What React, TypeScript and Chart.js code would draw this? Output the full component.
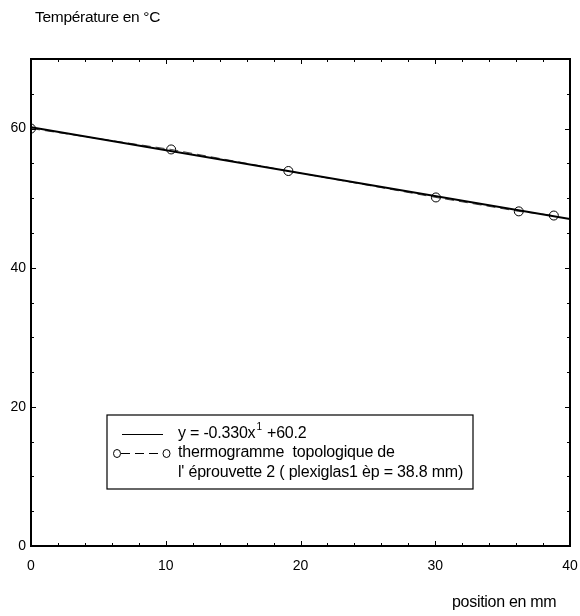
import React, { useEffect, useRef } from "react";
import { Chart, registerables } from "chart.js";

Chart.register(...registerables);

// Measured data (position in mm, temperature in °C)
const positions = [0, 10.4, 19.1, 30.05, 36.2, 38.8];
const temperatures = [60.0, 57.0, 53.9, 50.1, 48.1, 47.5];

// Fitted line end points: y = -0.330x + 60.2
const fitX = [0, 40];
const fitY = [60.2, 47.0];

const xTickValues = [0, 10, 20, 30, 40];
const yTickValues = [0, 20, 40, 60];

const yTitle = "Température en °C";
const xTitle = "position en mm";
const legendFit = "y = -0.330x";
const legendFitSup = "1";
const legendFitTail = " +60.2";
const legendData1 = "thermogramme  topologique de";
const legendData2 = "l' éprouvette 2 ( plexiglas1 èp = 38.8 mm)";

const FONT = '"Liberation Sans", Arial, sans-serif';

export default function App() {
  const ref = useRef<HTMLCanvasElement | null>(null);

  useEffect(() => {
    if (!ref.current) return;
    const dataPts = positions.map((x, i) => ({ x, y: temperatures[i] }));
    const fitPts = fitX.map((x, i) => ({ x, y: fitY[i] }));

    const decor = {
      id: "decor",
      afterDatasetsDraw(chart: any) {
        const ctx = chart.ctx as CanvasRenderingContext2D;
        const { left, right, top, bottom } = chart.chartArea;
        const xs = chart.scales.x;
        const ys = chart.scales.y;
        ctx.save();
        ctx.strokeStyle = "#000";
        ctx.fillStyle = "#000";
        // frame
        ctx.lineWidth = 2;
        ctx.strokeRect(left, top, right - left, bottom - top);
        // ticks
        ctx.lineWidth = 1;
        ctx.beginPath();
        for (let v = 0; v <= 40; v += 2) {
          const px = Math.round(xs.getPixelForValue(v)) + 0.5;
          const len = xTickValues.includes(v) ? 5 : 3;
          ctx.moveTo(px, bottom);
          ctx.lineTo(px, bottom - len);
          ctx.moveTo(px, top);
          ctx.lineTo(px, top + len);
        }
        for (let v = 0; v <= 70; v += 5) {
          const py = Math.round(ys.getPixelForValue(v)) + 0.5;
          const len = yTickValues.includes(v) ? 5 : 3;
          ctx.moveTo(left, py);
          ctx.lineTo(left + len, py);
          ctx.moveTo(right, py);
          ctx.lineTo(right - len, py);
        }
        ctx.stroke();

        // titles
        (ctx as any).letterSpacing = "-0.3px";
        ctx.textBaseline = "middle";
        ctx.textAlign = "left";
        ctx.font = `15.5px ${FONT}`;
        ctx.fillText(yTitle, 35, 18);
        ctx.font = `16px ${FONT}`;
        ctx.fillText(xTitle, 452, 603);

        // legend box
        const bx = 107, by = 415, bw = 366, bh = 74;
        ctx.lineWidth = 1.2;
        ctx.strokeRect(bx, by, bw, bh);
        // line 1 sample
        ctx.lineWidth = 1.2;
        ctx.beginPath();
        ctx.moveTo(122, 434.5);
        ctx.lineTo(163, 434.5);
        ctx.stroke();
        // line 2 sample
        ctx.lineWidth = 1;
        ctx.setLineDash([9, 5]);
        ctx.beginPath();
        ctx.moveTo(121, 453.5);
        ctx.lineTo(163, 453.5);
        ctx.stroke();
        ctx.setLineDash([]);
        ctx.beginPath();
        ctx.ellipse(117, 453.5, 3.5, 4, 0, 0, Math.PI * 2);
        ctx.stroke();
        ctx.beginPath();
        ctx.ellipse(166.5, 453.5, 3.5, 4, 0, 0, Math.PI * 2);
        ctx.stroke();

        (ctx as any).letterSpacing = "-0.2px";
        ctx.font = `16px ${FONT}`;
        const tx = 178;
        ctx.fillText(legendFit, tx, 434);
        const w1 = ctx.measureText(legendFit).width;
        ctx.font = `10px ${FONT}`;
        ctx.fillText(legendFitSup, tx + w1 + 1, 427);
        const w2 = ctx.measureText(legendFitSup).width;
        ctx.font = `16px ${FONT}`;
        ctx.fillText(legendFitTail, tx + w1 + w2 + 2, 434);
        ctx.fillText(legendData1, tx, 453);
        ctx.fillText(legendData2, tx, 473);
        ctx.restore();
      },
    };

    const chart = new Chart(ref.current, {
      type: "scatter",
      data: {
        datasets: [
          {
            label: "dashed",
            data: dataPts,
            showLine: true,
            borderColor: "#444",
            borderWidth: 1,
            borderDash: [9, 5],
            pointRadius: 0,
            order: 3,
          },
          {
            label: "fit",
            data: fitPts,
            showLine: true,
            borderColor: "#000",
            borderWidth: 2,
            pointRadius: 0,
            order: 2,
          },
          {
            label: "points",
            data: dataPts,
            showLine: false,
            pointRadius: 4.5,
            pointBorderColor: "#000",
            pointBackgroundColor: "rgba(0,0,0,0)",
            pointBorderWidth: 1,
            order: 1,
          },
        ],
      },
      options: {
        responsive: false,
        animation: false,
        layout: { padding: { top: 59, right: 10, left: 0, bottom: 0 } },
        plugins: { legend: { display: false }, tooltip: { enabled: false } },
        scales: {
          x: {
            type: "linear",
            min: 0,
            max: 40,
            afterBuildTicks: (s: any) => {
              s.ticks = xTickValues.map((v) => ({ value: v }));
            },
            ticks: {
              color: "#000",
              font: { family: FONT, size: 14 },
              padding: 12,
              maxRotation: 0,
              autoSkip: false,
            },
            grid: { display: false, drawTicks: false },
            border: { display: false },
            afterFit: (s: any) => {
              s.height = 70;
              s.paddingLeft = 0;
              s.paddingRight = 0;
            },
          },
          y: {
            type: "linear",
            min: 0,
            max: 70,
            afterBuildTicks: (s: any) => {
              s.ticks = yTickValues.map((v) => ({ value: v }));
            },
            ticks: {
              color: "#000",
              font: { family: FONT, size: 14 },
              padding: 5,
              autoSkip: false,
            },
            grid: { display: false, drawTicks: false },
            border: { display: false },
            afterFit: (s: any) => {
              s.width = 31;
              s.paddingTop = 0;
              s.paddingBottom = 0;
            },
          },
        },
      },
      plugins: [decor],
    } as any);
    return () => chart.destroy();
  }, []);

  return (
    <div style={{ position: "absolute", left: 0, top: 0, width: 580, height: 616, background: "#fff" }}>
      <canvas ref={ref} width={580} height={616} style={{ display: "block" }} />
    </div>
  );
}
